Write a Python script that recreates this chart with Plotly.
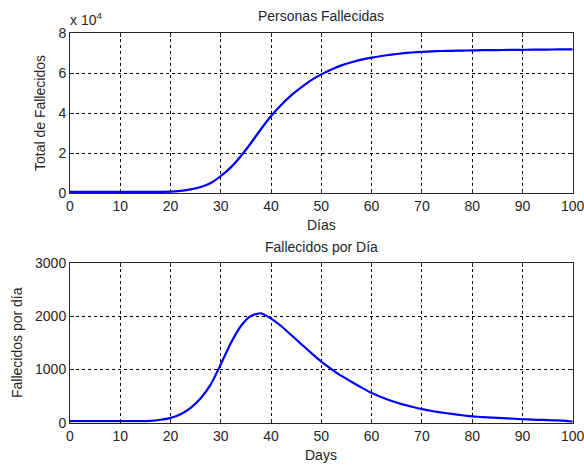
import plotly.graph_objects as go

# Data
days = [0, 2, 4, 6, 8, 10, 12, 14, 16, 18, 20, 22, 24, 26, 28, 30, 32, 34, 36, 38,
        40, 42, 44, 46, 48, 50, 52, 54, 56, 58, 60, 62, 64, 66, 68, 70, 72, 74, 76, 78,
        80, 82, 84, 86, 88, 90, 92, 94, 96, 98, 100]

total_deaths = [600, 600, 600, 600, 600, 600, 600, 600, 600, 600, 650, 1100, 1800, 3000, 5000, 8500,
                12800, 18500, 25000, 32000, 38500, 44000, 48800, 52800, 56400, 59300, 61800,
                63800, 65400, 66700, 67700, 68500, 69200, 69800, 70250, 70600, 70800, 71000,
                71100, 71200, 71300, 71400, 71450, 71500, 71550, 71600, 71650, 71700, 71750,
                71780, 71800]

daily_deaths = [30, 30, 30, 30, 30, 30, 30, 30, 35, 55, 90, 160, 280, 460, 720, 1100, 1500,
                1820, 2010, 2060, 1960, 1820, 1650, 1480, 1310, 1150, 1010, 880, 770, 660, 560,
                480, 410, 350, 300, 255, 220, 190, 165, 140, 120, 105, 95, 85, 75, 65, 58, 52,
                45, 40, 20]

x_ticks = [0, 10, 20, 30, 40, 50, 60, 70, 80, 90, 100]
top_yticks = [0, 20000, 40000, 60000, 80000]
top_yticklabels = ["0", "2", "4", "6", "8"]
bot_yticks = [0, 1000, 2000, 3000]

W, H = 584, 465
FONT = "Liberation Sans, Arial, sans-serif"
TXT = "#262626"
FS = 14

fig = go.Figure()
fig.add_trace(go.Scatter(x=days, y=total_deaths, mode="lines",
                         line=dict(color="#0000ff", width=2.2, shape="spline", smoothing=0.6),
                         xaxis="x", yaxis="y", showlegend=False))
fig.add_trace(go.Scatter(x=days, y=daily_deaths, mode="lines",
                         line=dict(color="#0000ff", width=2.2, shape="spline", smoothing=0.6),
                         xaxis="x2", yaxis="y2", showlegend=False))

xd = [70 / W, 572.7 / W]
y1d = [1 - 193 / H, 1 - 33 / H]
y2d = [1 - 422.7 / H, 1 - 263.3 / H]

common_x = dict(range=[0, 100], tickvals=x_ticks, showgrid=True, gridcolor="black",
                griddash="3px,3px", gridwidth=1, showline=True, linecolor=TXT, linewidth=1,
                mirror="ticks", ticks="inside", ticklen=4, tickcolor=TXT, zeroline=False,
                automargin=False, ticklabeloverflow="allow",
                tickfont=dict(family=FONT, size=FS, color=TXT), fixedrange=True)
common_y = dict(showgrid=True, gridcolor="black", griddash="3px,3px", gridwidth=1,
                showline=True, linecolor=TXT, linewidth=1, mirror="ticks", ticks="inside",
                ticklen=4, tickcolor=TXT, zeroline=False, automargin=False,
                ticklabeloverflow="allow",
                tickfont=dict(family=FONT, size=FS, color=TXT), fixedrange=True)

fig.update_layout(
    width=W, height=H,
    margin=dict(l=0, r=0, t=0, b=0),
    paper_bgcolor="white", plot_bgcolor="white",
    xaxis=dict(domain=xd, anchor="y", **common_x),
    yaxis=dict(domain=y1d, anchor="x", range=[0, 80000], tickvals=top_yticks,
               ticktext=top_yticklabels, **common_y),
    xaxis2=dict(domain=xd, anchor="y2", **common_x),
    yaxis2=dict(domain=y2d, anchor="x2", range=[0, 3000], tickvals=bot_yticks, **common_y),
)

def ann(text, x, y, size=FS, angle=0, xanchor="center", yanchor="middle"):
    fig.add_annotation(text=text, x=x / W, y=1 - y / H, xref="paper", yref="paper",
                       showarrow=False, textangle=angle, xanchor=xanchor, yanchor=yanchor,
                       font=dict(family=FONT, size=size, color=TXT))

ann("Personas Fallecidas", 321, 16)
ann("Días", 321, 225)
ann("Total de Fallecidos", 40, 113, angle=-90)
ann("x 10<sup>4</sup>", 68, 19, xanchor="left")
ann("Fallecidos por Día", 321, 247)
ann("Days", 321, 455)
ann("Fallecidos por día", 17, 343, angle=-90)

fig.write_html("out.html")
